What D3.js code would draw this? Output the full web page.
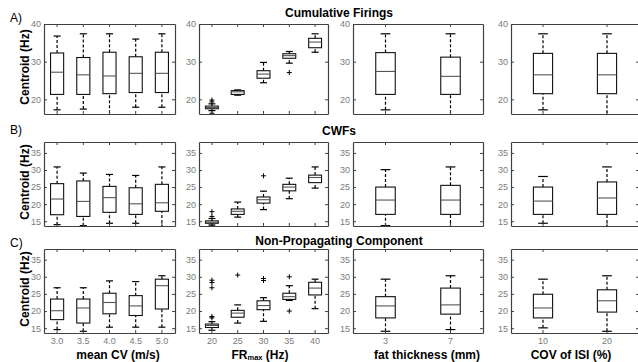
<!DOCTYPE html>
<html>
<head>
<meta charset="utf-8">
<script src="https://cdn.jsdelivr.net/npm/d3@7"></script>
<style>
body{margin:0;background:#fff;}
svg{display:block;font-family:"Liberation Sans",Arial,Helvetica,sans-serif;}
</style>
</head>
<body>
<div class="svg"></div>
<script>
// ______________________________ Data ______________________________
// each box is [lower whisker, Q1, median, Q3, upper whisker]

const cvCats  = ["3.0", "3.5", "4.0", "4.5", "5.0"];
const frCats  = ["20", "25", "30", "35", "40"];
const fatCats = ["3", "7"];
const covCats = ["10", "20"];

const rowTitles = ["Cumulative Firings", "CWFs", "Non-Propagating Component"];
const rowLetters = ["A)", "B)", "C)"];
const ticksA = [20, 30, 40];
const ticksBC = [15, 20, 25, 30, 35];

// A) cumulative firings
const cumCV  = [[17.2,21.3,27.2,32.3,36.8],[17.4,21.3,26.5,31.1,37.4],[15.0,21.5,26.2,32.5,37.4],[17.9,21.8,26.9,31.3,36.0],[17.9,21.8,26.9,32.5,37.4]];
const cumFR  = [[17.0,17.5,17.8,18.2,18.8],[21.1,21.3,22.0,22.3,22.5],[24.4,25.6,26.7,27.6,29.8],[29.6,30.9,31.6,32.1,32.7],[32.5,33.7,35.2,36.2,37.4]];
const cumFROut = [[19.8,19.3,16.3],[],[],[27.1],[]];
const cumFat = [[17.2,21.3,27.4,32.4,37.4],[15.0,21.3,26.1,31.2,37.4]];
const cumCOV = [[17.2,21.5,26.5,32.2,37.4],[15.0,21.5,26.5,32.2,37.4]];

// B) CWFs
const cwfCV  = [[14.0,16.9,21.5,26.0,30.9],[13.7,16.4,20.8,26.8,29.1],[14.4,17.6,21.9,25.2,28.7],[14.4,17.0,20.1,24.8,28.4],[13.0,17.9,20.4,25.8,30.9]];
const cwfFR  = [[13.9,14.4,14.7,15.1,15.8],[16.2,17.0,17.9,18.6,20.6],[18.4,20.3,21.3,22.1,23.8],[21.6,23.9,25.0,25.8,27.6],[24.7,26.3,27.8,28.5,30.9]];
const cwfFROut = [[17.8,16.4,13.6],[],[28.3],[],[]];
const cwfFat = [[13.7,17.0,21.2,25.0,30.1],[13.0,17.0,21.2,25.5,30.9]];
const cwfCOV = [[14.4,17.0,20.9,25.0,28.1],[13.0,17.0,21.8,26.5,30.9]];

// C) non-propagating component
const npcCV  = [[14.6,17.5,20.1,23.5,26.8],[14.1,16.5,20.9,23.5,26.8],[15.3,19.2,22.5,25.2,28.8],[15.3,18.7,21.5,24.5,28.6],[15.3,20.6,27.4,29.3,30.3]];
const npcFR  = [[14.4,15.2,15.8,16.2,16.9],[16.5,18.2,19.4,20.2,21.8],[17.0,20.4,21.6,23.0,23.9],[23.1,23.4,24.2,25.2,27.4],[20.7,24.7,26.7,28.4,29.3]];
const npcFROut = [[29.0,28.3,26.8,18.4,18.0],[30.5],[29.5,28.9],[30.0,20.0],[]];
const npcFat = [[14.1,18.0,21.5,24.2,29.3],[14.6,19.1,21.8,26.7,30.3]];
const npcCOV = [[15.1,18.0,20.9,24.9,29.3],[14.1,19.7,23.0,26.2,30.3]];

// ______________________________ Layout ______________________________

const width = 638;
const height = 362;

const cols = [
    {x0: 44,  x1: 175, cats: cvCats,  box: 0.5, cap: 0.27, label: "mean CV (m/s)",      lx: 118},
    {x0: 199, x1: 328, cats: frCats,  box: 0.5, cap: 0.27, label: "FR",                 lx: 260},
    {x0: 353, x1: 483, cats: fatCats, box: 0.3, cap: 0.15, label: "fat thickness (mm)", lx: 427},
    {x0: 511, x1: 639, cats: covCats, box: 0.3, cap: 0.15, label: "COV of ISI (%)",     lx: 571}
];

const rows = [
    {y0: 24,  y1: 114, dom: [16.1, 40], ticks: ticksA,  sets: [cumCV, cumFR, cumFat, cumCOV], outs: [null, cumFROut, null, null], titleY: 17, letterY: 22},
    {y0: 142, y1: 226, dom: [13.6, 38.2], ticks: ticksBC, sets: [cwfCV, cwfFR, cwfFat, cwfCOV], outs: [null, cwfFROut, null, null], titleY: 135, letterY: 134},
    {y0: 249, y1: 333, dom: [13.6, 38.1], ticks: ticksBC, sets: [npcCV, npcFR, npcFat, npcCOV], outs: [null, npcFROut, null, null], titleY: 245, letterY: 247}
];

const svg = d3.select(".svg")
    .append("svg")
    .attr("width", width)
    .attr("height", height);

svg.append("rect").attr("width", width).attr("height", height).attr("fill", "#fff");

let clipId = 0;

function drawPanel(row, col, stats, outliers, showX){
    const x = d3.scaleBand().domain(col.cats).range([col.x0, col.x1]);
    const y = d3.scaleLinear().domain(row.dom).range([row.y1, row.y0]);
    const bw = x.bandwidth();
    const cx = i => x(col.cats[i]) + bw / 2;

    clipId++;
    svg.append("clipPath").attr("id", "clip" + clipId)
        .append("rect")
        .attr("x", col.x0).attr("y", row.y0)
        .attr("width", col.x1 - col.x0).attr("height", row.y1 - row.y0);

    const g = svg.append("g").attr("clip-path", `url(#clip${clipId})`);

    const boxes = g.selectAll("g.bx")
        .data(stats)
        .join("g")
        .attr("class", "bx");

    // whiskers (dashed)
    boxes.append("line")
        .attr("x1", (d, i) => cx(i)).attr("x2", (d, i) => cx(i))
        .attr("y1", d => y(d[0])).attr("y2", d => y(d[1]))
        .attr("stroke", "#000").attr("stroke-width", 1.2).attr("stroke-dasharray", "3,2");
    boxes.append("line")
        .attr("x1", (d, i) => cx(i)).attr("x2", (d, i) => cx(i))
        .attr("y1", d => y(d[3])).attr("y2", d => y(d[4]))
        .attr("stroke", "#000").attr("stroke-width", 1.2).attr("stroke-dasharray", "3,2");

    // caps
    [0, 4].forEach(k => {
        boxes.append("line")
            .attr("x1", (d, i) => cx(i) - bw * col.cap / 2)
            .attr("x2", (d, i) => cx(i) + bw * col.cap / 2)
            .attr("y1", d => y(d[k])).attr("y2", d => y(d[k]))
            .attr("stroke", "#000").attr("stroke-width", 1.2);
    });

    // box
    boxes.append("rect")
        .attr("x", (d, i) => cx(i) - bw * col.box / 2)
        .attr("width", bw * col.box)
        .attr("y", d => y(d[3]))
        .attr("height", d => y(d[1]) - y(d[3]))
        .attr("fill", "none")
        .attr("stroke", "#111").attr("stroke-width", 1.1);

    // median
    boxes.append("line")
        .attr("x1", (d, i) => cx(i) - bw * col.box / 2)
        .attr("x2", (d, i) => cx(i) + bw * col.box / 2)
        .attr("y1", d => y(d[2])).attr("y2", d => y(d[2]))
        .attr("stroke", "#555").attr("stroke-width", 1.1);

    // outliers
    if (outliers){
        const pts = [];
        outliers.forEach((arr, i) => arr.forEach(v => pts.push({i: i, v: v})));
        g.selectAll("path.out")
            .data(pts)
            .join("path")
            .attr("class", "out")
            .attr("d", d => `M${cx(d.i) - 2.5},${y(d.v)}h5M${cx(d.i)},${y(d.v) - 2.5}v5`)
            .attr("stroke", "#000").attr("stroke-width", 1);
    }

    // axes, MATLAB style box with inward ticks
    const axL = svg.append("g").attr("transform", `translate(${col.x0},0)`)
        .call(d3.axisLeft(y).tickValues(row.ticks).tickSizeInner(-3).tickSizeOuter(0).tickPadding(3));
    const axR = svg.append("g").attr("transform", `translate(${col.x1},0)`)
        .call(d3.axisRight(y).tickValues(row.ticks).tickSizeInner(-3).tickSizeOuter(0).tickFormat(""));
    const axT = svg.append("g").attr("transform", `translate(0,${row.y0})`)
        .call(d3.axisTop(x).tickSizeInner(-3).tickSizeOuter(0).tickFormat(""));
    const axB = svg.append("g").attr("transform", `translate(0,${row.y1})`)
        .call(d3.axisBottom(x).tickSizeInner(-3).tickSizeOuter(0).tickPadding(5)
            .tickFormat(showX ? (d => d) : ""));

    [axL, axR, axT, axB].forEach(a => {
        a.select(".domain").attr("stroke", "#404040").attr("stroke-width", 1.2);
        a.selectAll(".tick line").attr("stroke", "#404040");
        a.selectAll(".tick text")
            .attr("fill", "#7a7a7a")
            .attr("font-size", "9px")
            .attr("font-family", "Liberation Sans, Arial, sans-serif");
    });
}

rows.forEach((row, r) => {
    cols.forEach((col, c) => {
        drawPanel(row, col, row.sets[c], row.outs[c], r === 2);
    });

    svg.append("text")
        .attr("x", 339)
        .attr("y", row.titleY)
        .attr("text-anchor", "middle")
        .attr("font-size", "12px")
        .attr("font-weight", "bold")
        .text(rowTitles[r]);

    svg.append("text")
        .attr("x", 10)
        .attr("y", row.letterY)
        .attr("font-size", "12px")
        .text(rowLetters[r]);

    svg.append("text")
        .attr("transform", `translate(29,${(row.y0 + row.y1) / 2 - 2}) rotate(-90)`)
        .attr("text-anchor", "middle")
        .attr("font-size", "12px")
        .attr("font-weight", "bold")
        .text("Centroid (Hz)");
});

// x axis labels under bottom row
cols.forEach(col => {
    const t = svg.append("text")
        .attr("x", col.lx)
        .attr("y", 358.5)
        .attr("text-anchor", "middle")
        .attr("font-size", "12px")
        .attr("font-weight", "bold");
    if (col.label === "FR"){
        t.append("tspan").text("FR");
        t.append("tspan").attr("font-size", "7.5px").attr("dy", 1.8).text("max");
        t.append("tspan").attr("dy", -1.8).text(" (Hz)");
    } else {
        t.text(col.label);
    }
});
</script>
</body>
</html>
